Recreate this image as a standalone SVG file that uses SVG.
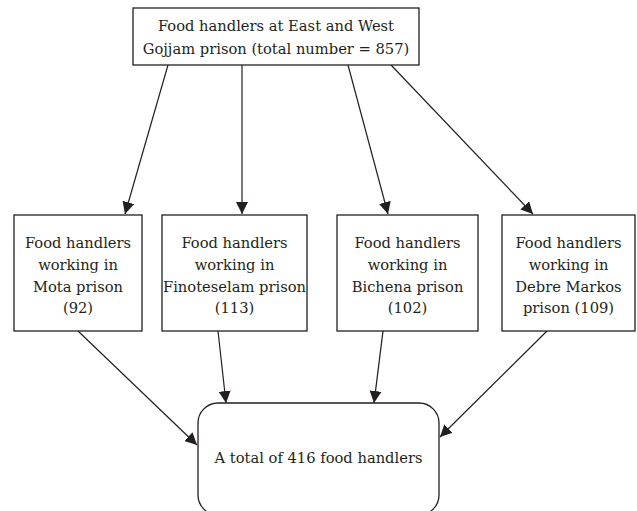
<svg xmlns="http://www.w3.org/2000/svg" width="637" height="511" viewBox="0 0 637 511">
<style>
.box{fill:#fff;stroke:#231f20;stroke-width:1.3}
.t{font-family:'DejaVu Serif','Liberation Serif',serif;font-size:14.7px;fill:#231f20;text-anchor:middle}
.c{stroke:#231f20;stroke-width:1.2;fill:none;marker-end:url(#ah)}
</style>
<defs>
<marker id="ah" viewBox="0 0 10 10" refX="10" refY="5" markerWidth="12" markerHeight="12" markerUnits="userSpaceOnUse" orient="auto">
<path d="M0,0 L10,5 L0,10 Z" fill="#231f20"/>
</marker>
</defs>
<rect width="637" height="511" fill="#fff"/>
<g id="connectors">
<line class="c" x1="168" y1="65" x2="125" y2="214"/>
<line class="c" x1="242" y1="65" x2="242" y2="214"/>
<line class="c" x1="348" y1="65" x2="388" y2="214"/>
<line class="c" x1="391" y1="65" x2="533" y2="214"/>
<line class="c" x1="78" y1="331" x2="197" y2="445"/>
<line class="c" x1="218" y1="331" x2="226" y2="403"/>
<line class="c" x1="383" y1="331" x2="374" y2="403"/>
<line class="c" x1="547" y1="331" x2="440" y2="437"/>
</g>
<g id="top">
<rect class="box" x="133" y="8" width="286" height="57"/>
<text class="t" x="276" y="31">Food handlers at East and West</text>
<text class="t" x="276" y="54">Gojjam prison (total number = 857)</text>
</g>
<g id="mota">
<rect class="box" x="14" y="215" width="128" height="116"/>
<text class="t" x="78" y="248">Food handlers</text>
<text class="t" x="78" y="270">working in</text>
<text class="t" x="78" y="292">Mota prison</text>
<text class="t" x="78" y="313">(92)</text>
</g>
<g id="finoteselam">
<rect class="box" x="162" y="215" width="145" height="116"/>
<text class="t" x="234.5" y="248">Food handlers</text>
<text class="t" x="234.5" y="270">working in</text>
<text class="t" x="234.5" y="292">Finoteselam prison</text>
<text class="t" x="234.5" y="313">(113)</text>
</g>
<g id="bichena">
<rect class="box" x="337" y="215" width="141" height="116"/>
<text class="t" x="407.5" y="248">Food handlers</text>
<text class="t" x="407.5" y="270">working in</text>
<text class="t" x="407.5" y="292">Bichena prison</text>
<text class="t" x="407.5" y="313">(102)</text>
</g>
<g id="debremarkos">
<rect class="box" x="502" y="215" width="133" height="116"/>
<text class="t" x="568.5" y="248">Food handlers</text>
<text class="t" x="568.5" y="270">working in</text>
<text class="t" x="568.5" y="292">Debre Markos</text>
<text class="t" x="568.5" y="313">prison (109)</text>
</g>
<g id="total">
<rect class="box" x="198" y="403" width="241" height="112" rx="20" ry="20"/>
<text class="t" x="318.5" y="463">A total of 416 food handlers</text>
</g>
</svg>
